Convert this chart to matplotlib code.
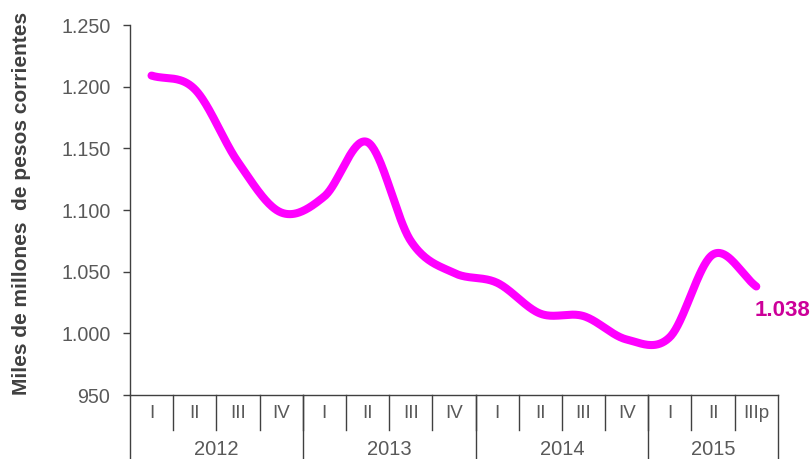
import numpy as np
import matplotlib
matplotlib.use("Agg")
import matplotlib.pyplot as plt
import matplotlib.transforms as mtransforms

quarters = ["I", "II", "III", "IV", "I", "II", "III", "IV",
            "I", "II", "III", "IV", "I", "II", "IIIp"]
years = ["2012", "2013", "2014", "2015"]
year_sizes = [4, 4, 4, 3]
values = [1209, 1198, 1139, 1098, 1111, 1155, 1075, 1049,
          1041, 1016, 1014, 995, 997, 1064, 1038]
last_label = "1.038"
yticks = [950, 1000, 1050, 1100, 1150, 1200, 1250]
ytick_labels = ["950", "1.000", "1.050", "1.100", "1.150", "1.200", "1.250"]

plt.rcParams['font.family'] = ['Liberation Sans', 'DejaVu Sans']

def catmull_rom(xs, ys, n=40):
    xs = np.asarray(xs, float); ys = np.asarray(ys, float)
    px = np.concatenate([[2*xs[0]-xs[1]], xs, [2*xs[-1]-xs[-2]]])
    py = np.concatenate([[2*ys[0]-ys[1]], ys, [2*ys[-1]-ys[-2]]])
    ox, oy = [], []
    t = np.linspace(0, 1, n)
    for i in range(1, len(px)-2):
        for arr, out in ((px, ox), (py, oy)):
            p0, p1, p2, p3 = arr[i-1], arr[i], arr[i+1], arr[i+2]
            out.extend(0.5*((2*p1) + (-p0+p2)*t + (2*p0-5*p1+4*p2-p3)*t**2
                            + (-p0+3*p1-3*p2+p3)*t**3))
    return np.array(ox), np.array(oy)

fig = plt.figure(figsize=(8.12, 4.59), dpi=100)
ax = fig.add_axes([0.160, 0.1394, 0.798, 0.8061])

x = np.arange(len(values))
sx, sy = catmull_rom(x, values)
ax.plot(sx, sy, color="#FF00FF", lw=5.8, solid_capstyle="round")

ax.set_xlim(-0.5, len(values)-0.5)
ax.set_ylim(950, 1250)
ax.set_yticks(yticks)
ax.set_yticklabels(ytick_labels, color="#595959", fontsize=14.2)
ax.tick_params(axis="y", length=5, width=1, color="#404040", pad=9)
ax.set_xticks([])
for s in ["top", "right"]:
    ax.spines[s].set_visible(False)
for s in ["left", "bottom"]:
    ax.spines[s].set_color("#404040")
    ax.spines[s].set_linewidth(1.0)

ax.set_ylabel("Miles de millones  de pesos corrientes", fontsize=15,
              fontweight="bold", color="#404040")
ax.yaxis.set_label_coords(-0.152, 0.518)

trans = mtransforms.blended_transform_factory(ax.transData, ax.transAxes)
for k in range(1, len(values)):
    ax.plot([k-0.5, k-0.5], [0, -0.095], transform=trans, color="#404040",
            lw=1, clip_on=False)
b = -0.5
bounds = [b]
for s in year_sizes:
    b += s
    bounds.append(b)
for bb in bounds:
    ax.plot([bb, bb], [0, -0.19], transform=trans, color="#404040",
            lw=1, clip_on=False)
for i, q in enumerate(quarters):
    ax.text(i, -0.05, q, transform=trans, ha="center", va="center",
            fontsize=13.5, color="#595959")
for j, yr in enumerate(years):
    ax.text((bounds[j]+bounds[j+1])/2, -0.146, yr, transform=trans,
            ha="center", va="center", fontsize=14.5, color="#595959")

ax.annotate(last_label, xy=(x[-1], values[-1]), xytext=(-1, -17),
            textcoords="offset points", ha="left", va="center",
            fontsize=16, fontweight="bold", color="#CC0099",
            annotation_clip=False)

fig.savefig("out.png", dpi=100)
